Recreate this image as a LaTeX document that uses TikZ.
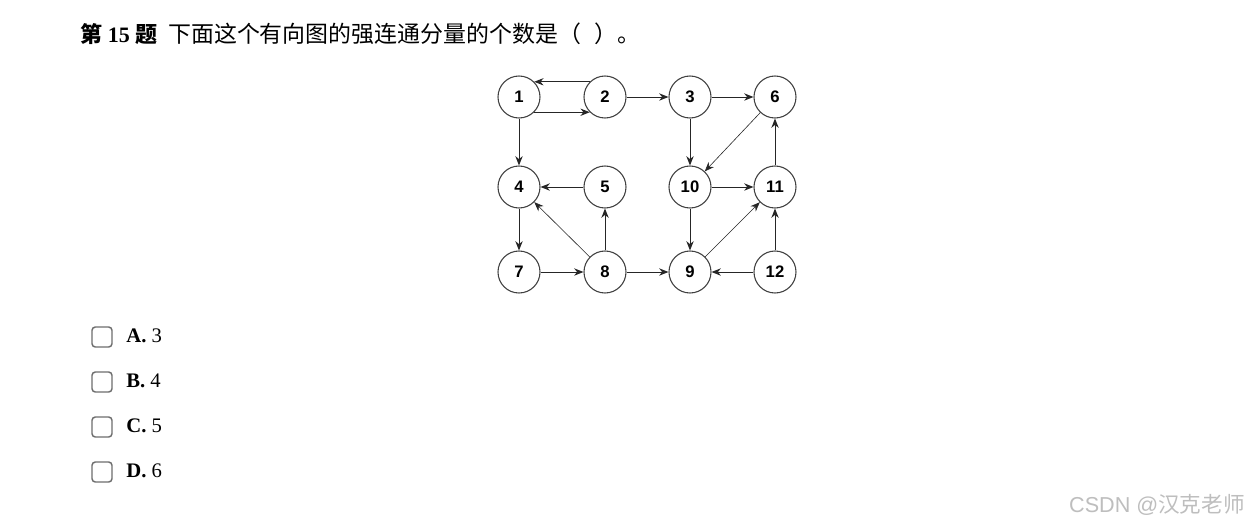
\documentclass[tikz,border=0pt]{standalone}
\usepackage{fontspec}
\setmainfont{Liberation Serif}
\newfontfamily\cjk{Noto Sans CJK SC}
\newfontfamily\vtxfont{Liberation Sans}
\usetikzlibrary{arrows.meta, positioning}
\definecolor{boxgray}{RGB}{110, 110, 110}
\definecolor{markgray}{RGB}{190, 190, 190}

\begin{document}
\begin{tikzpicture}[x=0.75pt, y=-0.75pt,
    vtx/.style={circle, draw=black!75, line width=0.8pt, minimum size=31.5pt, inner sep=0pt, font=\vtxfont\bfseries\fontsize{12.5}{14}\selectfont},
    arc/.style={-{Stealth[length=7pt, width=5.5pt]}, line width=0.75pt, black!85},
    thinarc/.style={arc, line width=0.45pt},
    chkbox/.style={rectangle, rounded corners=2.5pt, draw=boxgray, line width=1.1pt, minimum size=15pt, inner sep=0pt},
    opt/.style={anchor=west, inner sep=0pt, font=\fontsize{15.5}{18}\selectfont}]
    \fill[white] (0,0) rectangle (1257,526);
    \useasboundingbox (0,0) rectangle (1257,526);

    % question
    \node[anchor=base west, inner sep=0pt, font=\fontsize{16.5}{20}\selectfont] (title) at (80,42)
        {\textbf{{\cjk 第} 15 {\cjk 题}}\hspace{0.5em}{\cjk\fontsize{17.2}{20}\selectfont 下面这个有向图的强连通分量的个数是（\hspace{0.6em}）。}};

    % vertices
    \node[vtx] (n1) at (519,97) {1};
    \node[vtx] (n2) at (605,97) {2};
    \node[vtx] (n3) at (690,97) {3};
    \node[vtx] (n6) at (775,97) {6};
    \node[vtx] (n4) at (519,187) {4};
    \node[vtx] (n5) at (605,187) {5};
    \node[vtx] (n10) at (690,187) {10};
    \node[vtx] (n11) at (775,187) {11};
    \node[vtx] (n7) at (519,272) {7};
    \node[vtx] (n8) at (605,272) {8};
    \node[vtx] (n9) at (690,272) {9};
    \node[vtx] (n12) at (775,272) {12};

    % edges
    \draw[arc] (n2.135) -- (n1.45);
    \draw[arc] (n1.-45) -- (n2.-135);
    \draw[arc] (n2) -- (n3);
    \draw[arc] (n3) -- (n6);
    \draw[arc] (n1) -- (n4);
    \draw[arc] (n3) -- (n10);
    \draw[thinarc] (n6) -- (n10);
    \draw[arc] (n5) -- (n4);
    \draw[arc] (n10) -- (n11);
    \draw[arc] (n11) -- (n6);
    \draw[arc] (n4) -- (n7);
    \draw[thinarc] (n8) -- (n4);
    \draw[arc] (n8) -- (n5);
    \draw[arc] (n10) -- (n9);
    \draw[thinarc] (n9) -- (n11);
    \draw[arc] (n12) -- (n11);
    \draw[arc] (n7) -- (n8);
    \draw[arc] (n8) -- (n9);
    \draw[arc] (n12) -- (n9);

    % answer options
    \node[chkbox] (boxA) at (102,337) {};
    \node[chkbox] (boxB) at (102,382) {};
    \node[chkbox] (boxC) at (102,427) {};
    \node[chkbox] (boxD) at (102,472) {};
    \node[opt, right=10pt of boxA, yshift=1.2pt] (optA) {\textbf{A.} 3};
    \node[opt, right=10pt of boxB, yshift=1.2pt] (optB) {\textbf{B.} 4};
    \node[opt, right=10pt of boxC, yshift=1.2pt] (optC) {\textbf{C.} 5};
    \node[opt, right=10pt of boxD, yshift=1.2pt] (optD) {\textbf{D.} 6};

    % watermark
    \node[inner sep=0pt, text=markgray, font=\vtxfont\fontsize{16.2}{19}\selectfont] (mark) at (1157,505)
        {CSDN @{\cjk 汉克老师}};
\end{tikzpicture}
\end{document}
